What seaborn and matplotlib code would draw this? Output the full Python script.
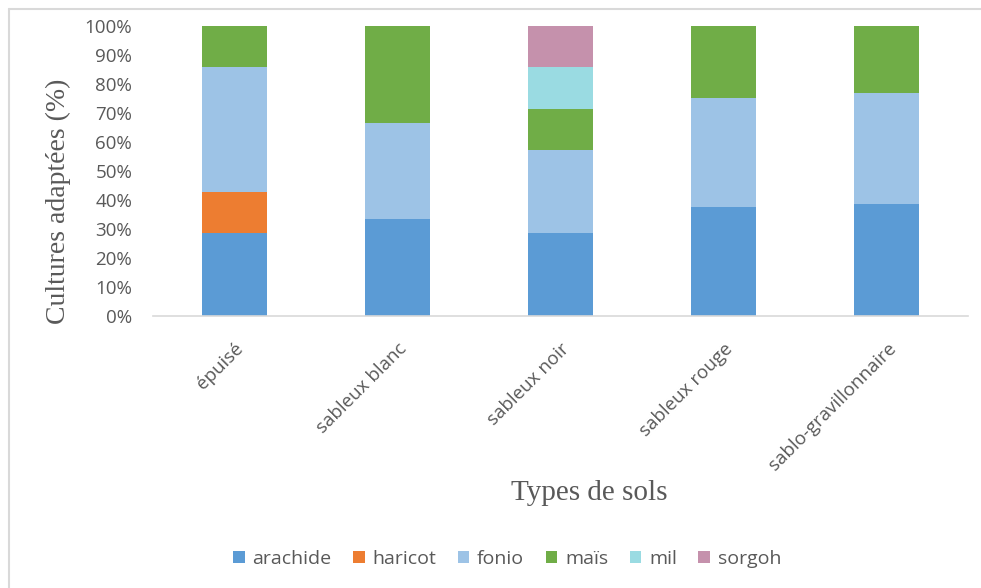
import matplotlib
matplotlib.use("Agg")
import matplotlib.pyplot as plt
import seaborn as sns
import pandas as pd
import numpy as np
from matplotlib.patches import Patch
from matplotlib.lines import Line2D
from matplotlib.ticker import FixedLocator, PercentFormatter

sols = ["épuisé", "sableux blanc", "sableux noir", "sableux rouge", "sablo-gravillonnaire"]
cultures = ["arachide", "haricot", "fonio", "maïs", "mil", "sorgoh"]

arachide = [28.6, 33.3, 28.6, 37.5, 38.5]
haricot = [14.3, 0.0, 0.0, 0.0, 0.0]
fonio = [42.9, 33.3, 28.6, 37.5, 38.5]
mais = [14.3, 33.4, 14.3, 25.0, 23.0]
mil = [0.0, 0.0, 14.3, 0.0, 0.0]
sorgoh = [0.0, 0.0, 14.2, 0.0, 0.0]

couleurs = ["#5B9BD5", "#ED7D31", "#9DC3E6", "#70AD47", "#9ADBE2", "#C591AC"]

series = [arachide, haricot, fonio, mais, mil, sorgoh]
df = pd.DataFrame({"sol": sols})
for nom, vals in zip(cultures, series):
    df[nom] = vals

gris = "#595959"
sns.set_theme(style="white")
plt.rcParams["font.family"] = ["Open Sans", "DejaVu Sans"]

fig = plt.figure(figsize=(9.81, 5.88), dpi=100)
ax = fig.add_axes([0.156, 0.4626, 0.831, 0.4932])

# stacked bars, one layer per crop
bas = np.zeros(len(sols))
for nom, col in zip(cultures, couleurs):
    sns.barplot(data=df, x="sol", y=nom, color=col, width=0.4, bottom=bas,
                ax=ax, linewidth=0, saturation=1)
    bas = bas + df[nom].to_numpy()

ax.set_ylim(0, 100)
ax.set_xlim(-0.5, len(sols) - 0.5)
ax.yaxis.set_major_locator(FixedLocator(np.arange(0, 101, 10)))
ax.yaxis.set_major_formatter(PercentFormatter(decimals=0))

for s in ["top", "right", "left"]:
    ax.spines[s].set_visible(False)
ax.spines["bottom"].set_color("#D9D9D9")
ax.spines["bottom"].set_linewidth(1.2)

ax.tick_params(axis="y", length=0, labelsize=13.5, labelcolor=gris, pad=15)
ax.tick_params(axis="x", which="major", length=0, labelsize=13.5, labelcolor=gris, pad=17)
ax.xaxis.set_minor_locator(FixedLocator(np.arange(-0.5, len(sols), 1.0)))
ax.tick_params(axis="x", which="minor", length=6, width=1.2, color="#D9D9D9", direction="out")

ax.set_xticks(range(len(sols)))
ax.set_xticklabels(sols, rotation=45, ha="right", rotation_mode="anchor")

ax.set_ylabel("")
ax.set_xlabel("")
fig.text(0.060, 0.658, "Cultures adaptées (%)", family="Liberation Serif", fontsize=20,
         color=gris, ha="center", va="center", rotation=90)
fig.text(0.601, 0.162, "Types de sols", family="Liberation Serif", fontsize=21,
         color=gris, ha="center", va="center")

handles = [Patch(facecolor=c, edgecolor="none") for c in couleurs]
fig.legend(handles, cultures, loc="center", bbox_to_anchor=(0.517, 0.050), ncol=6,
           frameon=False, fontsize=14, labelcolor=gris, handlelength=0.6,
           handleheight=0.6, handletextpad=0.4, columnspacing=1.1)

# chart frame border (top and left edges)
fig.add_artist(Line2D([0.0092, 1.0], [0.984, 0.984], transform=fig.transFigure,
                      color="#D9D9D9", linewidth=1.5))
fig.add_artist(Line2D([0.0092, 0.0092], [0.0, 0.984], transform=fig.transFigure,
                      color="#D9D9D9", linewidth=1.5))

fig.savefig("out.png", dpi=100, facecolor="white")
